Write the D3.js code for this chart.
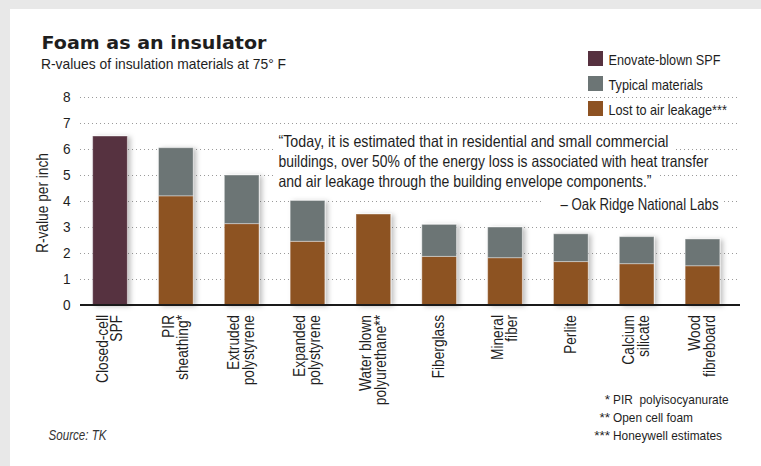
<!DOCTYPE html>
<html>
<head>
<meta charset="utf-8">
<script src="https://cdn.jsdelivr.net/npm/d3@7/dist/d3.min.js"></script>
<style>
  body { margin: 0; background: #e8e8e8; }
  svg { display: block; }
  text { font-family: 'Liberation Sans Narrow', 'Liberation Sans', Arial, sans-serif; fill: #1e1e1e; white-space: pre; }
  .title { font-family: 'DejaVu Sans', 'Liberation Sans', sans-serif; font-weight: bold; }
  .grid line { stroke: #9a9a9a; stroke-width: 1; stroke-dasharray: 1 3; }
</style>
</head>
<body>
<svg id="chart" width="761" height="466"></svg>
<script>
// Foam as an insulator: R-values per inch, stacked bars (leakage + typical)

const categoryLines = [
  ['Closed-cell', 'SPF'],
  ['PIR', 'sheathing*'],
  ['Extruded', 'polystyrene'],
  ['Expanded', 'polystyrene'],
  ['Water blown', 'polyurethane**'],
  ['Fiberglass'],
  ['Mineral', 'fiber'],
  ['Perlite'],
  ['Calcium', 'silicate'],
  ['Wood', 'fibreboard'],
];
const categories = categoryLines.map((l) => l.join(' '));

// bar tops
const enovateSPF = [6.5, null, null, null, null, null, null, null, null, null];
const typicalMaterials = [null, 6.05, 5.0, 4.02, null, 3.1, 3.0, 2.74, 2.63, 2.54];
const lostToAirLeakage = [null, 4.2, 3.13, 2.45, 3.5, 1.87, 1.82, 1.67, 1.59, 1.51];

const yTicks = [0, 1, 2, 3, 4, 5, 6, 7, 8];

const legendItems = [
  { label: 'Enovate-blown SPF', color: '#56313f' },
  { label: 'Typical materials', color: '#6c7575' },
  { label: 'Lost to air leakage***', color: '#8d5222' },
];

const quoteLines = [
  '\u201cToday, it is estimated that in residential and small commercial',
  'buildings, over 50% of the energy loss is associated with heat transfer',
  'and air leakage through the building envelope components.\u201d',
];
const quoteWidths = [390, 430, 373];
const quoteSource = '\u2013 Oak Ridge National Labs';

const footnotes = [
  { mark: '*', text: 'PIR  polyisocyanurate' },
  { mark: '**', text: 'Open cell foam' },
  { mark: '***', text: 'Honeywell estimates' },
];

const COLORS = {
  enovate: legendItems[0].color,
  typical: legendItems[1].color,
  leakage: legendItems[2].color,
};

const svg = d3.select('#chart');

// stretch/squeeze a set of texts so that a reference text gets a target width
function fit(sel, refNode, target) {
  const k = target / refNode.getComputedTextLength();
  sel.each(function () {
    const w = this.getComputedTextLength();
    d3.select(this).attr('textLength', w * k).attr('lengthAdjust', 'spacingAndGlyphs');
    this.__fitWidth = w * k;
  });
  return k;
}

const defs = svg.append('defs');
defs.append('filter')
  .attr('id', 'shadow')
  .attr('x', '-30%').attr('y', '-10%')
  .attr('width', '170%').attr('height', '130%')
  .append('feDropShadow')
  .attr('dx', 3).attr('dy', 1)
  .attr('stdDeviation', 2.4)
  .attr('flood-color', '#000')
  .attr('flood-opacity', 0.25);

// backdrop
svg.append('rect').attr('width', 761).attr('height', 466).attr('fill', '#e8e8e8');
svg.append('rect').attr('x', 10).attr('y', 9).attr('width', 751).attr('height', 457).attr('fill', '#fff');

const x = d3.scaleBand()
  .domain(categories)
  .range([79.5, 733])
  .paddingInner(0.473)
  .paddingOuter(0.2);

const y = d3.scaleLinear().domain([0, 8]).range([305, 97]);

// title block
const title = svg.append('text')
  .attr('class', 'title')
  .attr('x', 41.5).attr('y', 48.5)
  .style('font-size', '18.5px')
  .text('Foam as an insulator');
fit(title, title.node(), 225);

const subtitle = svg.append('text')
  .attr('x', 41).attr('y', 69)
  .style('font-size', '14.5px')
  .text('R-values of insulation materials at 75\u00b0 F');
fit(subtitle, subtitle.node(), 245);

// gridlines
const grid = svg.append('g').attr('class', 'grid');
grid.selectAll('line')
  .data(yTicks.filter((d) => d > 0))
  .join('line')
  .attr('x1', 80).attr('x2', 740)
  .attr('y1', (d) => Math.round(y(d)) + 0.5)
  .attr('y2', (d) => Math.round(y(d)) + 0.5);

// y tick labels
const yLabels = svg.append('g')
  .selectAll('text')
  .data(yTicks)
  .join('text')
  .attr('x', 70.5)
  .attr('y', (d) => y(d))
  .attr('dy', '0.36em')
  .attr('text-anchor', 'end')
  .style('font-size', '14.5px')
  .text((d) => d);
fit(yLabels, yLabels.nodes()[8], 7.6);

const yTitle = svg.append('text')
  .attr('transform', 'translate(48,203) rotate(-90)')
  .attr('text-anchor', 'middle')
  .style('font-size', '16.5px')
  .text('R-value per inch');
fit(yTitle, yTitle.node(), 100);

// quote, with white boxes that interrupt the gridlines
const quoteBg = svg.append('g');
const quoteG = svg.append('g');
const quoteText = quoteG.selectAll('text')
  .data(quoteLines)
  .join('text')
  .attr('x', 278.5)
  .attr('y', (d, i) => 147 + i * 20.2)
  .style('font-size', '16.5px')
  .text((d) => d);
quoteText.each(function (d, i) {
  fit(d3.select(this), this, quoteWidths[i]);
});

const sourceText = quoteG.append('text')
  .attr('x', 718.5).attr('y', 209.5)
  .attr('text-anchor', 'end')
  .style('font-size', '16.5px')
  .text(quoteSource);
fit(sourceText, sourceText.node(), 158);

quoteBg.selectAll('rect')
  .data(quoteText.nodes())
  .join('rect')
  .attr('x', 273)
  .attr('y', (d, i) => 147 + i * 20.2 - 15)
  .attr('width', (d) => d.__fitWidth + 11)
  .attr('height', 20.2)
  .attr('fill', '#fff');
quoteBg.append('rect')
  .attr('x', 718.5 - sourceText.node().__fitWidth - 17)
  .attr('y', 194)
  .attr('width', sourceText.node().__fitWidth + 22)
  .attr('height', 20)
  .attr('fill', '#fff');

// bars
const bars = svg.append('g')
  .selectAll('g')
  .data(categories)
  .join('g')
  .attr('filter', 'url(#shadow)');

bars.each(function (cat, i) {
  const g = d3.select(this);
  const segs = [];
  if (enovateSPF[i] != null) segs.push({ y0: 0, y1: enovateSPF[i], color: COLORS.enovate });
  if (lostToAirLeakage[i] != null) segs.push({ y0: 0, y1: lostToAirLeakage[i], color: COLORS.leakage });
  if (typicalMaterials[i] != null) {
    segs.push({ y0: lostToAirLeakage[i] || 0, y1: typicalMaterials[i], color: COLORS.typical });
  }
  g.selectAll('rect')
    .data(segs)
    .join('rect')
    .attr('x', x(cat))
    .attr('width', x.bandwidth())
    .attr('y', (d) => y(d.y1))
    .attr('height', (d) => y(d.y0) - y(d.y1))
    .attr('fill', (d) => d.color)
    .attr('stroke', 'rgba(255,255,255,0.4)')
    .attr('stroke-width', 1);
});

// baseline
svg.append('line')
  .attr('x1', 80).attr('x2', 740)
  .attr('y1', 305).attr('y2', 305)
  .attr('stroke', '#1a1a1a')
  .attr('stroke-width', 2);

// category labels, rotated, one text per line
const LINE = 14.5;
const xLabelData = [];
categoryLines.forEach((lines, i) => {
  lines.forEach((txt, j) => {
    xLabelData.push({ cat: categories[i], txt, off: 5 - ((lines.length - 1) * LINE) / 2 + j * LINE });
  });
});
const xLabels = svg.append('g')
  .selectAll('text')
  .data(xLabelData)
  .join('text')
  .attr('transform', (d) => `translate(${x(d.cat) + x.bandwidth() / 2 + d.off},315) rotate(-90)`)
  .attr('text-anchor', 'end')
  .style('font-size', '16.5px')
  .text((d) => d.txt);
fit(xLabels, xLabels.nodes()[0], 68);

// legend
const legend = svg.append('g').attr('transform', 'translate(588,51)');
const legendRows = legend.selectAll('g')
  .data(legendItems)
  .join('g')
  .attr('transform', (d, i) => `translate(0,${i * 25})`);
legendRows.append('rect')
  .attr('width', 15).attr('height', 15)
  .attr('fill', (d) => d.color);
const legendText = legendRows.append('text')
  .attr('x', 20.5).attr('y', 14)
  .style('font-size', '15px')
  .text((d) => d.label);
fit(legendText, legendText.nodes()[0], 112);

// footnotes
const notes = svg.append('g');
const noteRows = notes.selectAll('g')
  .data(footnotes)
  .join('g')
  .attr('transform', (d, i) => `translate(0,${403.5 + i * 18})`);
noteRows.append('text')
  .attr('x', 610).attr('text-anchor', 'end')
  .style('font-size', '13.5px')
  .text((d) => d.mark);
const noteText = noteRows.append('text')
  .attr('x', 613)
  .style('font-size', '13.5px')
  .text((d) => d.text);
fit(noteText, noteText.nodes()[2], 109);

const source = svg.append('text')
  .attr('x', 48.5).attr('y', 440)
  .style('font-size', '14px')
  .style('font-style', 'italic')
  .style('fill', '#333')
  .text('Source: TK');
fit(source, source.node(), 58);
</script>
</body>
</html>
